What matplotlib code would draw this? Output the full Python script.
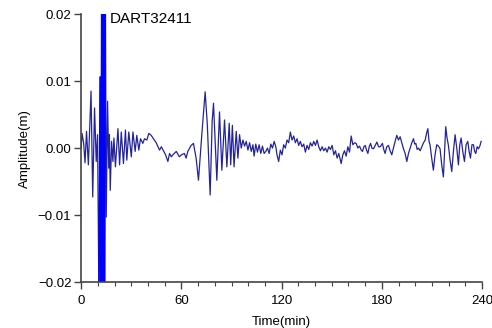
import numpy as np
from matplotlib import pyplot as plt
from matplotlib.ticker import MultipleLocator

plt.rcParams['font.family'] = ['Liberation Sans', 'DejaVu Sans']

# time (min) and amplitude (mm)
t_early = [0.0, 0.5, 1.5, 2.3, 3.2, 4.3, 5.9, 6.9, 8.0, 9.0, 9.8,
           10.6, 11.4, 11.9, 12.4, 12.9, 13.4, 13.9, 14.4,
           15.0, 15.8, 16.5, 16.9, 17.4, 18.2, 19.0, 19.6, 20.5]
a_early = [0.0, 2.2, 0.7, -2.2, 2.5, -2.5, 8.5, -7.3, 6.0, -2.0, 2.0,
           -22.0, 10.6, -30.0, 35.0, -35.0, 35.0, -35.0, 30.0,
           -10.3, 7.0, -3.0, 2.0, -6.3, 1.0, -2.0, 1.5, -2.8]

t_mid = [22.0, 23.0, 24.0, 25.3, 26.5, 27.3, 28.5, 30.0, 31.0, 32.3, 33.3,
         34.5, 35.5, 36.9, 37.9, 39.3, 40.5, 41.9, 43.0, 44.9, 46.9, 48.0,
         49.5, 50.5, 51.9, 52.9, 54.0, 54.9, 56.9, 58.8, 60.0, 61.8, 62.8,
         63.8, 65.8, 67.2, 68.8, 70.2, 72.2, 74.2, 75.5, 77.2, 78.4, 79.2,
         81.2, 82.8, 84.2, 85.8, 87.2, 88.6]
a_mid = [2.9, -2.5, 2.4, -2.3, 2.7, -1.8, 2.4, -1.3, 2.4, -0.5, 1.9,
         -0.3, 1.4, 0.7, 1.4, 1.2, 2.2, 1.9, 1.5, 0.8, -0.3, 0.2,
         -0.5, -1.0, -2.0, -0.8, -1.3, -1.0, -0.5, -1.3, -1.0, -0.8, -1.5,
         -0.5, 0.4, 0.7, -1.5, -4.8, 2.0, 8.4, 3.5, -7.0, 4.0, 6.7,
         -4.8, 5.4, -3.3, 4.2, -2.8, 3.7]

t_late1 = [89.5, 90.5, 91.5, 92.8, 93.8, 94.8, 95.8, 96.8, 97.8, 98.8, 99.8,
           100.8, 101.8, 102.8, 103.5, 104.5, 105.5, 106.5, 107.5, 108.5,
           109.5, 110.5, 111.5, 112.5, 113.5, 114.5, 115.5, 116.5, 117.2,
           118.2, 119.2, 120.2, 121.2, 122.2, 123.2, 124.2, 125.2, 126.2,
           127.2, 128.2, 129.2, 130.2, 131.2, 132.2, 133.2, 134.2, 135.2,
           136.2, 137.2, 138.2, 139.2, 140.2, 141.2, 142.2, 143.2, 144.2,
           145.2, 146.2, 147.2, 148.2, 149.2, 150.2, 151.2, 152.2, 153.2,
           154.2, 155.6, 156.6, 157.6, 158.6, 159.6, 160.6, 161.6, 162.6,
           163.6]
a_late1 = [-2.5, 3.4, -2.8, 2.5, -1.5, 2.0, 0.0, 1.2, 0.3, 1.0, -0.3,
           0.8, -0.5, 0.5, -1.2, 0.6, -0.6, 0.5, -0.8, 0.3,
           -0.8, -0.5, 0.0, -0.8, 0.6, 0.0, 1.0, 0.2, -1.0,
           -2.0, -0.3, -1.0, 0.5, 0.0, 1.2, 0.8, 2.4, 1.2,
           1.8, 0.8, 1.4, 0.4, 1.0, 0.2, 0.6, -0.6, 0.4,
           -0.2, 0.8, 0.3, 1.0, 0.4, 1.2, 0.2, -0.4, 0.2,
           -0.4, 0.0, -0.6, 0.2, -0.2, 0.4, -1.0, -0.4, -1.5,
           -0.8, -2.3, -1.0, -0.4, -1.2, 0.2, -0.6, 1.8, 0.5,
           0.8]

t_late2 = [164.6, 165.6, 166.6, 167.6, 168.4, 169.2, 170.0, 170.8, 171.6,
           172.4, 173.2, 174.0, 175.0, 176.0, 177.0, 178.0, 179.0, 180.3,
           181.1, 181.9, 182.9, 183.9, 184.9, 185.9, 186.9, 187.9, 188.9,
           189.9, 190.9, 191.9, 192.9, 193.9, 194.9, 195.9, 196.9, 197.9,
           198.9, 199.6, 200.3, 201.1, 201.9, 202.9, 203.9, 204.9, 205.9,
           206.7, 207.5, 208.2, 208.8, 209.8, 210.8, 211.8, 212.8, 213.8,
           214.8, 215.8, 216.8, 217.5, 218.2, 219.0, 219.8, 220.8, 221.8,
           222.8, 223.8, 224.8, 225.8, 226.6, 227.4, 228.4, 229.4, 230.4,
           231.4, 232.2, 233.0, 233.9, 234.8, 235.5, 236.2, 237.0, 237.8,
           238.6, 239.4]
a_late2 = [0.7, 0.0, 0.3, -0.3, -0.5, 0.2, 0.4, -0.3, -0.8,
           0.2, 0.7, 0.0, -0.1, 0.4, 0.9, 0.2, 0.2, 0.7,
           -0.2, -0.8, 0.2, 0.4, -0.4, -1.0, 0.0, 1.0, 1.9,
           1.2, 1.7, 0.8, -0.1, -0.8, -2.0, -0.8, 0.0, 0.8,
           1.4, 0.6, 0.7, -0.2, 0.0, -0.4, 0.2, 0.8, 1.2,
           2.2, 2.9, 1.0, 0.5, -1.5, -3.3, -1.0, 0.5, 0.3,
           -0.1, -2.5, -4.3, -0.5, 3.2, 1.5, 0.4, -1.8, -3.5,
           -0.5, 2.0, 0.0, -2.5, 0.5, 1.5, -0.5, -2.0, 0.5,
           1.0, -0.5, -1.5, 0.5, 0.5, -0.5, -0.8, 0.2, -0.1,
           0.3, 1.0]

t = np.array(t_early + t_mid + t_late1 + t_late2)
amp = np.array(a_early + a_mid + a_late1 + a_late2) * 1e-3

xticks = [0, 60, 120, 180, 240]
yticks = [-0.02, -0.01, 0.0, 0.01, 0.02]
ytick_labels = ['\u22120.02', '\u22120.01', '0.00', '0.01', '0.02']

fig = plt.figure(figsize=(4.92, 3.28), dpi=100)
ax = fig.add_axes([0.165, 0.14, 0.815, 0.817])

ax.plot(t, amp, '-', color='#24249a', linewidth=0.9)
# dense burst near the start shows as solid bright blue
burst = (t >= 10.5) & (t <= 14.5)
ax.plot(t[burst], amp[burst], '-', color='#0000ff', linewidth=1.2)

ax.set_xlim(0, 240)
ax.set_ylim(-0.02, 0.02)
ax.set_xticks(xticks)
ax.xaxis.set_minor_locator(MultipleLocator(10))
ax.set_yticks(yticks)
ax.set_yticklabels(ytick_labels)

for s in ['top', 'right']:
    ax.spines[s].set_visible(False)
for s in ['left', 'bottom']:
    ax.spines[s].set_color('#444444')
    ax.spines[s].set_linewidth(1.2)
ax.tick_params(which='major', direction='out', length=5, width=1.0,
               color='#444444', labelsize=9.5)
ax.tick_params(axis='y', which='major', pad=2)
ax.tick_params(axis='x', which='major', pad=4)
ax.tick_params(which='minor', direction='out', length=3, width=0.8,
               color='#444444')

ax.set_xlabel('Time(min)', fontsize=9.5, labelpad=7)
ax.set_ylabel('Amplitude(m)', fontsize=9.5, labelpad=5)
ax.text(17, 0.0193, 'DART32411', fontsize=11, va='center')

fig.savefig('out.png', dpi=100)
